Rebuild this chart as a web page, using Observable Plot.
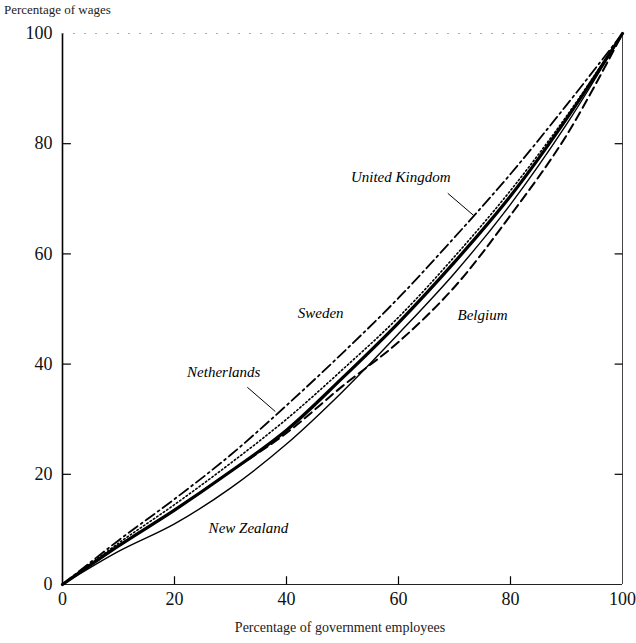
<!DOCTYPE html>
<html>
<head>
<meta charset="utf-8">
<script src="https://cdn.jsdelivr.net/npm/d3@7"></script>
<script src="https://cdn.jsdelivr.net/npm/@observablehq/plot@0.6"></script>
<style>
  body { margin: 0; background: #fff; }
  #wrap { position: relative; width: 636px; height: 643px; font-family: "Liberation Serif", "DejaVu Serif", serif; }
  #ytitle { position: absolute; left: 4px; top: 2px; font-size: 13px; color: #222; }
  #xtitle { position: absolute; left: 0; width: 680px; top: 620px; text-align: center; font-size: 14px; color: #222; }
  #chart { position: absolute; left: 0; top: 0; }
</style>
</head>
<body>
<div id="wrap">
  <div id="chart"></div>
  <div id="ytitle">Percentage of wages</div>
  <div id="xtitle">Percentage of government employees</div>
</div>
<script>
// Percentage of government employees (cumulative)
const pctEmployees = [0, 10, 20, 30, 40, 50, 60, 70, 80, 90, 100];
// Percentage of wages (cumulative) by country
const unitedKingdom = [0, 8, 15.5, 23.5, 32.5, 42, 52, 63, 74.5, 87, 100];
const netherlands   = [0, 7.5, 14.5, 22, 30, 39, 48.5, 59.5, 71.5, 85, 100];
const sweden        = [0, 7, 13.5, 20.5, 28, 37.5, 47.5, 58.5, 70.5, 84.5, 100];
const belgium       = [0, 7, 13.5, 20.5, 27.5, 36, 44, 54, 67, 81.5, 100];
const newZealand    = [0, 6, 11, 17.5, 25.5, 35, 45.5, 56.5, 69, 83.5, 100];

const ticks = [0, 20, 40, 60, 80, 100];
const innerTicks = [20, 40, 60, 80];

const labelNames = ["United Kingdom", "Sweden", "Netherlands", "Belgium", "New Zealand"];
const labelX = [60.4, 46.1, 28.8, 75, 33.2];
const labelY = [73.9, 49.2, 38.6, 48.8, 10.3];

const pointerNames = ["United Kingdom", "Netherlands"];
const pointerX1 = [68.8, 33];
const pointerY1 = [71, 35.8];
const pointerX2 = [73.4, 38];
const pointerY2 = [67, 31.4];

const toRows = (ys) => pctEmployees.map((x, i) => ({x, y: ys[i]}));
const labels = labelNames.map((name, i) => ({name, x: labelX[i], y: labelY[i]}));
const pointers = pointerNames.map((name, i) => ({name, x1: pointerX1[i], y1: pointerY1[i], x2: pointerX2[i], y2: pointerY2[i]}));

const curve = "catmull-rom";

const chart = Plot.plot({
  width: 636,
  height: 643,
  marginLeft: 62,
  marginRight: 14,
  marginTop: 33,
  marginBottom: 59,
  style: {fontFamily: "'Liberation Serif', 'DejaVu Serif', serif", background: "white", color: "#111"},
  x: {domain: [0, 100]},
  y: {domain: [0, 100]},
  marks: [
    // frame
    Plot.ruleX([0], {stroke: "#000", strokeWidth: 1.6}),
    Plot.ruleX([100], {stroke: "#444", strokeWidth: 1}),
    Plot.ruleY([0], {stroke: "#222", strokeWidth: 1.2}),
    Plot.ruleY([100], {stroke: "#999", strokeWidth: 0.8, strokeDasharray: "2,9"}),
    // inward ticks
    Plot.link(innerTicks, {x1: 0, x2: 1.5, y1: d => d, y2: d => d, stroke: "#000", strokeWidth: 1.2}),
    Plot.link(innerTicks, {x1: 100, x2: 98.6, y1: d => d, y2: d => d, stroke: "#000", strokeWidth: 1.2}),
    Plot.link(innerTicks, {x1: d => d, x2: d => d, y1: 0, y2: 1.5, stroke: "#000", strokeWidth: 1.2}),
    // tick labels
    Plot.axisX(ticks, {tickSize: 0, tickPadding: 8, fontSize: 18, label: null}),
    Plot.axisY(ticks, {tickSize: 0, tickPadding: 10, fontSize: 18, label: null}),
    // curves
    Plot.line(toRows(newZealand), {x: "x", y: "y", curve, stroke: "#000", strokeWidth: 1.4}),
    Plot.line(toRows(belgium), {x: "x", y: "y", curve, stroke: "#000", strokeWidth: 2, strokeDasharray: "9,5"}),
    Plot.line(toRows(sweden), {x: "x", y: "y", curve, stroke: "#000", strokeWidth: 3.2}),
    Plot.line(toRows(netherlands), {x: "x", y: "y", curve, stroke: "#000", strokeWidth: 1.6, strokeDasharray: "1.5,2.5"}),
    Plot.line(toRows(unitedKingdom), {x: "x", y: "y", curve, stroke: "#000", strokeWidth: 1.8, strokeDasharray: "11,4,2,4"}),
    // pointers and labels
    Plot.link(pointers, {x1: "x1", y1: "y1", x2: "x2", y2: "y2", stroke: "#000", strokeWidth: 1}),
    Plot.text(labels, {x: "x", y: "y", text: "name", fontSize: 15, fontStyle: "italic", fill: "#000"})
  ]
});
document.getElementById("chart").appendChild(chart);
</script>
</body>
</html>
